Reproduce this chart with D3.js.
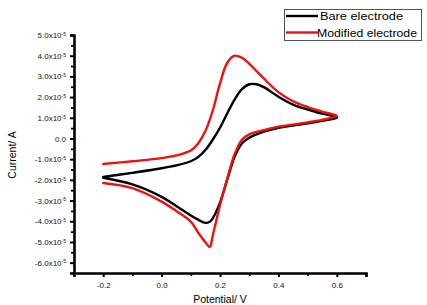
<!DOCTYPE html>
<html>
<head>
<meta charset="utf-8">
<script src="https://cdn.jsdelivr.net/npm/d3@7"></script>
<style>
  body { margin: 0; background: #fff; }
  svg { display: block; font-family: "Liberation Sans", Arial, sans-serif; }
</style>
</head>
<body>
<div id="chart"></div>
<script>
// current values are in units of 1e-5 A
const fwdPotential = [-0.2, -0.1, 0, 0.05, 0.1, 0.125, 0.15, 0.175, 0.2, 0.225, 0.25, 0.275, 0.3, 0.325, 0.35, 0.4, 0.45, 0.5, 0.55, 0.6];
const bareFwd = [-1.86, -1.66, -1.44, -1.30, -1.10, -0.90, -0.56, -0.06, 0.52, 1.22, 1.88, 2.38, 2.62, 2.62, 2.48, 2.02, 1.64, 1.40, 1.20, 1.02];
const modFwd  = [-1.23, -1.10, -0.95, -0.82, -0.58, -0.24, 0.36, 1.34, 2.66, 3.66, 4.00, 3.90, 3.62, 3.26, 2.90, 2.24, 1.80, 1.52, 1.30, 1.10];

const revPotential = [0.6, 0.55, 0.5, 0.45, 0.4, 0.35, 0.325, 0.3, 0.275, 0.25, 0.225, 0.2, 0.175, 0.165, 0.15, 0.125, 0.1, 0.05, 0, -0.1, -0.2];
const bareRev = [1.00, 0.85, 0.73, 0.63, 0.52, 0.33, 0.20, 0.04, -0.24, -0.88, -1.98, -3.10, -3.86, -4.02, -4.08, -3.92, -3.72, -3.26, -2.82, -2.22, -1.90];
const modRev  = [1.08, 0.90, 0.78, 0.67, 0.57, 0.40, 0.32, 0.20, -0.06, -0.76, -1.92, -3.22, -4.70, -5.24, -5.01, -4.54, -4.02, -3.50, -3.05, -2.40, -2.15];

const seriesNames = ["Bare electrode", "Modified electrode"];
const seriesColors = ["#000000", "#ee1111"];

const xTicks = [-0.2, 0, 0.2, 0.4, 0.6];
const xMinor = [-0.3, -0.1, 0.1, 0.3, 0.5, 0.7];
const yTicks = [5, 4, 3, 2, 1, 0, -1, -2, -3, -4, -5, -6];
const yMinor = [4.5, 3.5, 2.5, 1.5, 0.5, -0.5, -1.5, -2.5, -3.5, -4.5, -5.5, -6.5];

const width = 427, height = 305;
const plotLeft = 74, plotRight = 366, plotTop = 35, plotBottom = 273;

const x = d3.scaleLinear().domain([-0.3, 0.7]).range([plotLeft, plotRight]);
const y = d3.scaleLinear().domain([-6.5, 5]).range([plotBottom, plotTop]);

const svg = d3.select("#chart").append("svg")
  .attr("width", width)
  .attr("height", height);

// curves
const line = d3.line()
  .x(d => x(d[0]))
  .y(d => y(d[1]))
  .curve(d3.curveCatmullRom.alpha(0.5));

const loops = [
  fwdPotential.map((v, i) => [v, bareFwd[i]]).concat(revPotential.map((v, i) => [v, bareRev[i]])),
  fwdPotential.map((v, i) => [v, modFwd[i]]).concat(revPotential.map((v, i) => [v, modRev[i]]))
];

svg.selectAll(".cv")
  .data(loops)
  .enter()
  .append("path")
  .attr("class", "cv")
  .attr("d", line)
  .attr("fill", "none")
  .attr("stroke", (d, i) => seriesColors[i])
  .attr("stroke-width", 2.4)
  .attr("stroke-linejoin", "round")
  .attr("stroke-linecap", "round");

// x axis
const xg = svg.append("g").attr("transform", `translate(0,${plotBottom})`);
xg.call(d3.axisBottom(x).tickValues(xTicks).tickSize(4).tickPadding(5)
  .tickFormat(d => d === 0 ? "0.0" : d3.format(".1f")(d).replace("−", "-")));
svg.append("g").attr("transform", `translate(0,${plotBottom})`)
  .call(d3.axisBottom(x).tickValues(xMinor).tickSize(3).tickFormat(""))
  .call(g => g.select(".domain").remove())
  .selectAll("line").attr("stroke-width", 1.8);

// y axis
const yg = svg.append("g").attr("transform", `translate(${plotLeft},0)`);
yg.call(d3.axisLeft(y).tickValues(yTicks).tickSize(4).tickPadding(4)
  .tickFormat(d => d === 0 ? "0.0" : d3.format(".1f")(d).replace("−", "-") + "x10"));
yg.selectAll(".tick text").each(function (d) {
  if (d !== 0) {
    d3.select(this).append("tspan")
      .attr("dy", "-0.45em")
      .attr("font-size", 5)
      .text("-5");
  }
});
svg.append("g").attr("transform", `translate(${plotLeft},0)`)
  .call(d3.axisLeft(y).tickValues(yMinor).tickSize(3).tickFormat(""))
  .call(g => g.select(".domain").remove())
  .selectAll("line").attr("stroke-width", 1.8);

[xg, yg].forEach(g => {
  g.select(".domain").attr("stroke-width", 2.6).attr("stroke", "#000");
  g.selectAll(".tick line").attr("stroke-width", 2);
  g.selectAll(".tick text").attr("font-size", 8).attr("fill", "#111")
    .attr("font-family", "'Liberation Sans', Arial, sans-serif");
});

// axis titles
svg.append("text")
  .attr("x", 220).attr("y", 303)
  .attr("text-anchor", "middle")
  .attr("font-size", 10.5)
  .text("Potential/ V");

svg.append("text")
  .attr("transform", "translate(16,155) rotate(-90)")
  .attr("text-anchor", "middle")
  .attr("font-size", 10.5)
  .text("Current/ A");

// legend
const legend = svg.append("g");
legend.append("rect")
  .attr("x", 284.5).attr("y", 9.5)
  .attr("width", 137).attr("height", 31)
  .attr("fill", "#fff")
  .attr("stroke", "#555")
  .attr("stroke-width", 1);

const items = legend.selectAll(".item")
  .data(seriesNames)
  .enter()
  .append("g")
  .attr("transform", (d, i) => `translate(0,${16 + i * 16.5})`);

items.append("line")
  .attr("x1", 286).attr("x2", 318)
  .attr("stroke", (d, i) => seriesColors[i])
  .attr("stroke-width", 2.4);

items.append("text")
  .attr("x", (d, i) => i === 0 ? 320 : 317)
  .attr("y", 4)
  .attr("font-size", 10.5)
  .attr("textLength", (d, i) => i === 0 ? 83 : 100)
  .attr("lengthAdjust", "spacingAndGlyphs")
  .text(d => d);
</script>
</body>
</html>
